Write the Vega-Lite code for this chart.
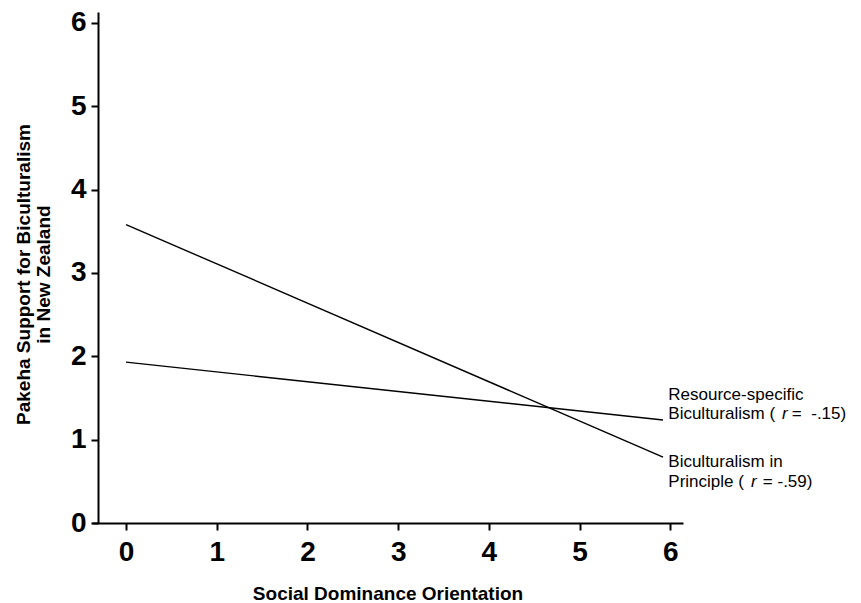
{
  "$schema": "https://vega.github.io/schema/vega-lite/v6.json",
  "width": 591,
  "height": 511,
  "autosize": {"type": "none"},
  "padding": {"left": 92, "top": 12, "right": 178, "bottom": 80},
  "background": "white",
  "config": {"view": {"stroke": null}, "font": "Liberation Sans"},
  "datasets": {
    "lines": [
      {"series": "Biculturalism in Principle", "sdo": 0, "support": 3.58},
      {"series": "Biculturalism in Principle", "sdo": 5.92, "support": 0.79},
      {"series": "Resource-specific Biculturalism", "sdo": 0, "support": 1.93},
      {"series": "Resource-specific Biculturalism", "sdo": 5.92, "support": 1.235}
    ],
    "labels": [
      {"x": 5.978, "y": 1.54, "text": "Resource-specific"},
      {"x": 5.978, "y": 1.302, "text": "Biculturalism ("},
      {"x": 7.34, "y": 1.302, "text": "=\u00a0\u00a0-.15)"},
      {"x": 5.978, "y": 0.735, "text": "Biculturalism in"},
      {"x": 5.978, "y": 0.497, "text": "Principle ("},
      {"x": 7.02, "y": 0.497, "text": "=\u00a0-.59)"}
    ],
    "italic": [
      {"x": 7.23, "y": 1.302, "text": "r"},
      {"x": 6.89, "y": 0.497, "text": "r"}
    ]
  },
  "layer": [
    {
      "data": {"name": "lines"},
      "mark": {"type": "line", "color": "black", "strokeWidth": 1.4},
      "encoding": {
        "x": {
          "field": "sdo", "type": "quantitative",
          "scale": {"domain": [-0.375, 6.14], "nice": false, "zero": false},
          "axis": {
            "values": [0, 1, 2, 3, 4, 5, 6], "format": "d", "grid": false,
            "domainColor": "black", "domainWidth": 2, "tickColor": "black", "tickWidth": 2, "tickSize": 7,
            "labelFontSize": 28, "labelFontWeight": "bold", "labelColor": "black", "labelPadding": 8,
            "title": "Social Dominance Orientation", "titleFontSize": 19, "titleFontWeight": "bold",
            "titleColor": "black", "titlePadding": 18
          }
        },
        "y": {
          "field": "support", "type": "quantitative",
          "scale": {"domain": [0, 6.13], "nice": false, "zero": false},
          "axis": {
            "values": [0, 1, 2, 3, 4, 5, 6], "format": "d", "grid": false, "offset": -6,
            "domainColor": "black", "domainWidth": 2, "tickColor": "black", "tickWidth": 2, "tickSize": 7,
            "labelFontSize": 28, "labelFontWeight": "bold", "labelColor": "black", "labelPadding": 5,
            "title": ["Pakeha Support for Biculturalism", "in New Zealand"],
            "titleFontSize": 19, "titleFontWeight": "bold", "titleColor": "black",
            "titleLineHeight": 20, "titlePadding": 17, "titleY": 262
          }
        },
        "detail": {"field": "series"}
      }
    },
    {
      "data": {"name": "labels"},
      "mark": {"type": "text", "align": "left", "baseline": "middle", "fontSize": 17, "color": "black", "clip": false},
      "encoding": {
        "x": {"field": "x", "type": "quantitative"},
        "y": {"field": "y", "type": "quantitative"},
        "text": {"field": "text"}
      }
    },
    {
      "data": {"name": "italic"},
      "mark": {"type": "text", "align": "left", "baseline": "middle", "fontSize": 17, "fontStyle": "italic", "color": "black", "clip": false},
      "encoding": {
        "x": {"field": "x", "type": "quantitative"},
        "y": {"field": "y", "type": "quantitative"},
        "text": {"field": "text"}
      }
    }
  ]
}
